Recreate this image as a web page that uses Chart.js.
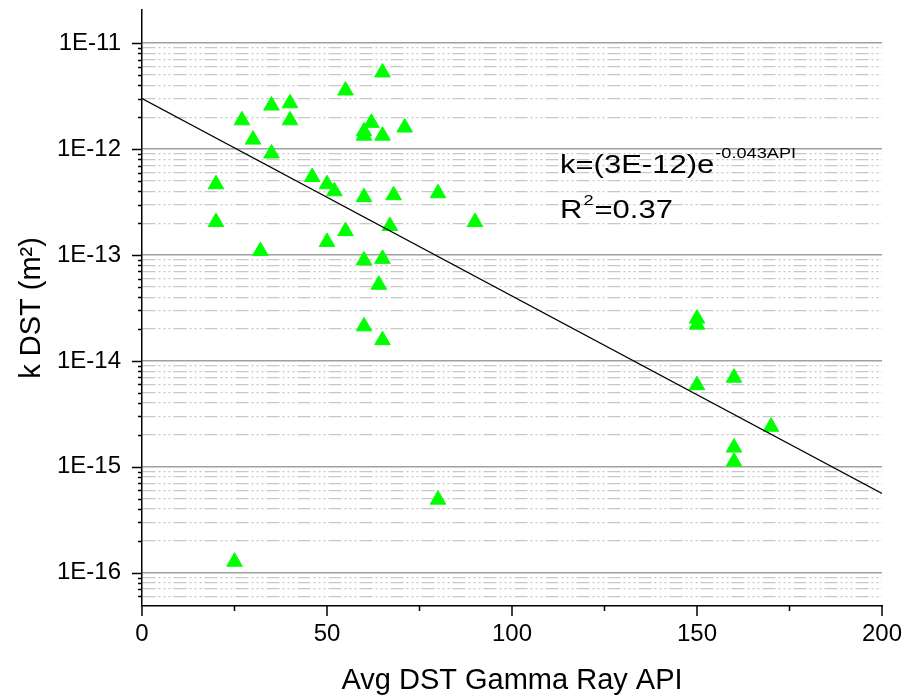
<!DOCTYPE html>
<html>
<head>
<meta charset="utf-8">
<script src="https://cdn.jsdelivr.net/npm/chart.js@4/dist/chart.umd.min.js"></script>
<style>
  html, body { margin: 0; padding: 0; background: #fff; }
  #chartCanvas { display: block; }
</style>
</head>
<body>
<canvas id="chartCanvas" width="906" height="700"></canvas>
<script>
// Avg DST gamma ray (API) and permeability k DST (m2)
const gammaRay = [20, 20, 27, 30, 35, 35, 32, 40, 40, 55,
                  65, 71, 62, 60, 60, 65, 46, 50, 52, 60,
                  68, 80, 90, 67, 55, 50, 60, 65, 64, 60,
                  65, 150, 150, 150, 160, 170, 160, 160, 80, 25];
const kDst = [4.66e-13, 2.05e-13, 1.87e-12, 1.23e-12, 2.58e-12, 9.1e-13, 1.09e-13, 2.71e-12, 1.87e-12, 3.58e-12,
              5.3e-12, 1.6e-12, 1.77e-12, 1.47e-12, 1.34e-12, 1.34e-12, 5.45e-13, 4.66e-13, 4.0e-13, 3.52e-13,
              3.67e-13, 3.83e-13, 2.05e-13, 1.88e-13, 1.68e-13, 1.33e-13, 8.9e-14, 9.2e-14, 5.24e-14, 2.12e-14,
              1.57e-14, 2.51e-14, 2.2e-14, 5.9e-15, 6.95e-15, 2.39e-15, 1.52e-15, 1.12e-15, 4.9e-16, 1.27e-16];

// exponential fit line end points: k=(3E-12)e^-0.043API
const fitGamma = [0, 200];
const fitK = [3.0e-12, 5.6e-16];

const xTickLabels = ['0', '50', '100', '150', '200'];
const yTickLabels = ['1E-16', '1E-15', '1E-14', '1E-13', '1E-12', '1E-11'];

const FONT = '"Liberation Sans", Arial, sans-serif';

// tick marks outside the axes (long for labelled ticks, short for the others)
const tickMarks = {
    id: 'tickMarks',
    afterDraw(chart) {
        const ctx = chart.ctx;
        const xs = chart.scales.x;
        const ys = chart.scales.y;
        const area = chart.chartArea;
        ctx.save();
        ctx.strokeStyle = '#000';
        ctx.lineWidth = 1.5;
        ctx.beginPath();
        xs.ticks.forEach(t => {
            const px = xs.getPixelForValue(t.value);
            const len = t.value % 50 === 0 ? 10 : 5;
            ctx.moveTo(px, area.bottom);
            ctx.lineTo(px, area.bottom + len);
        });
        ys.ticks.forEach(t => {
            const py = Math.round(ys.getPixelForValue(t.value)) + 0.5;
            const len = t.major ? 10 : 4;
            ctx.moveTo(area.left, py);
            ctx.lineTo(area.left - len, py);
        });
        ctx.stroke();
        ctx.restore();
    }
};

// fit equation and R2 text
const fitLabel = {
    id: 'fitLabel',
    afterDraw(chart) {
        const ctx = chart.ctx;
        const put = (text, x, y, size, stretch) => {
            ctx.save();
            ctx.font = size + 'px ' + FONT;
            ctx.fillStyle = '#000';
            ctx.textBaseline = 'alphabetic';
            ctx.translate(x, y);
            ctx.scale(stretch, 1);
            ctx.fillText(text, 0, 0);
            const w = ctx.measureText(text).width * stretch;
            ctx.restore();
            return x + w;
        };
        let x = put('k=(3E-12)e', 560, 173, 25, 1.24);
        put('-0.043API', x + 1, 158, 14, 1.3);
        x = put('R', 560, 218, 25, 1.24);
        x = put('2', x + 1, 205, 14, 1.3);
        put('=0.37', x + 1, 218, 25, 1.24);
    }
};

const ctx = document.getElementById('chartCanvas').getContext('2d');

window.myChart = new Chart(ctx, {
    data: {
        datasets: [{
            type: 'line',
            label: 'fit',
            data: fitGamma.map((g, i) => ({ x: g, y: fitK[i] })),
            borderColor: '#000',
            borderWidth: 1.3,
            pointRadius: 0,
            fill: false,
            order: 0
        }, {
            type: 'scatter',
            label: 'k DST',
            data: gammaRay.map((g, i) => ({ x: g, y: kDst[i] })),
            pointStyle: 'triangle',
            pointRadius: 9,
            pointBackgroundColor: '#00ff00',
            pointBorderColor: '#00ff00',
            pointBorderWidth: 1,
            order: 1
        }]
    },
    options: {
        responsive: false,
        animation: false,
        layout: { padding: { top: 7, right: 24, left: 0, bottom: 0 } },
        plugins: {
            legend: { display: false },
            tooltip: { enabled: false }
        },
        scales: {
            x: {
                type: 'linear',
                min: 0,
                max: 200,
                ticks: {
                    stepSize: 25,
                    autoSkip: false,
                    maxRotation: 0,
                    padding: 14,
                    color: '#000',
                    font: { family: FONT, size: 24, lineHeight: 1.2 },
                    callback: v => (v % 50 === 0 ? xTickLabels[v / 50] : '')
                },
                grid: { drawOnChartArea: false, drawTicks: false },
                border: { color: '#000', width: 1.5 },
                title: {
                    display: true,
                    text: 'Avg DST Gamma Ray API',
                    color: '#000',
                    font: { family: FONT, size: 29, lineHeight: 1 },
                    padding: { top: 0, bottom: 5 }
                },
                afterFit: s => { s.height = 94; s.paddingLeft = 0; s.paddingRight = 0; }
            },
            y: {
                type: 'logarithmic',
                min: 4.85e-17,
                max: 2.06e-11,
                afterBuildTicks: scale => {
                    const ticks = [];
                    for (let e = -17; e <= -11; e++) {
                        for (let m = 1; m <= 9; m++) {
                            const v = m * Math.pow(10, e);
                            if (v > scale.min * 1.1 && v < scale.max * 0.9) {
                                ticks.push({ value: v, major: m === 1 });
                            }
                        }
                    }
                    scale.ticks = ticks;
                },
                ticks: {
                    autoSkip: false,
                    padding: 21,
                    color: '#000',
                    font: { family: FONT, size: 24, lineHeight: 1.2 },
                    callback: (v, i, ticks) => {
                        if (!ticks[i].major) return '';
                        return yTickLabels[Math.round(Math.log10(v)) + 16] || '';
                    }
                },
                grid: {
                    drawTicks: false,
                    color: c => (c.tick && c.tick.major ? '#a0a0a0' : '#c8c8c8'),
                    lineWidth: c => (c.tick && c.tick.major ? 1.6 : 1.3)
                },
                border: {
                    color: '#000',
                    width: 1.5,
                    dash: c => (c.tick && !c.tick.major ? [13, 3, 2, 3, 2, 3, 2, 3] : [])
                },
                title: {
                    display: true,
                    text: 'k DST (m\u00b2)',
                    color: '#000',
                    font: { family: FONT, size: 29, lineHeight: 1.2 },
                    padding: { top: 15, bottom: 0 }
                },
                afterFit: s => { s.width = 142; s.paddingTop = 0; s.paddingBottom = 0; }
            }
        }
    },
    plugins: [tickMarks, fitLabel]
});
</script>
</body>
</html>
